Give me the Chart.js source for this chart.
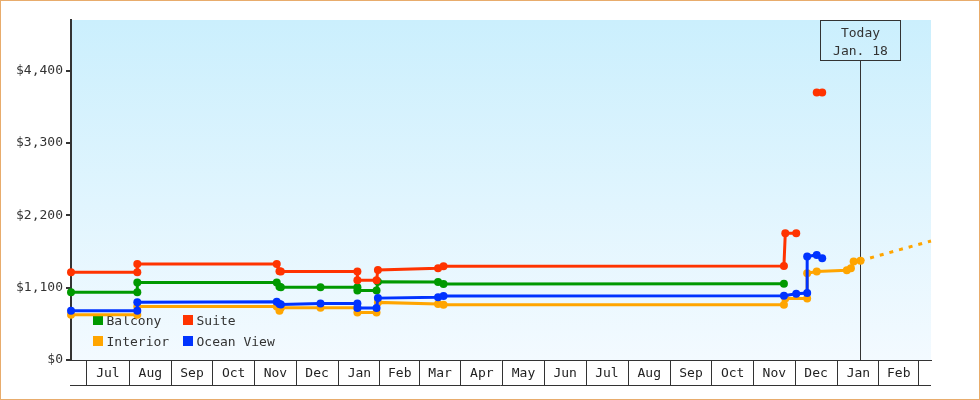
<!DOCTYPE html>
<html>
<head>
<meta charset="utf-8">
<script src="https://cdn.jsdelivr.net/npm/chart.js@4.4.1/dist/chart.umd.min.js"></script>
<style>
  html, body { margin: 0; padding: 0; background: #ffffff; }
  #wrap { position: relative; width: 980px; height: 400px; }
  #frame { position: absolute; left: 0; top: 0; width: 980px; height: 400px; box-sizing: border-box; border: 1px solid #e8ac6c; pointer-events: none; }
  canvas { display: block; }
</style>
</head>
<body>
<div id="wrap"><canvas id="c" width="980" height="400"></canvas><div id="frame"></div></div>
<script>
// ---------- data ----------
const legendOrder = ['Balcony', 'Suite', 'Interior', 'Ocean View'];
const monthNames = ['Jan','Feb','Mar','Apr','May','Jun','Jul','Aug','Sep','Oct','Nov','Dec'];
const xTickMonths = ['2021-07','2021-08','2021-09','2021-10','2021-11','2021-12','2022-01','2022-02','2022-03','2022-04',
                     '2022-05','2022-06','2022-07','2022-08','2022-09','2022-10','2022-11','2022-12','2023-01','2023-02'];
const yTicks = [0, 1100, 2200, 3300, 4400];
const xStart = '2021-06-19T12:00';
const xEnd = '2023-03-10T14:00';
const yMax = 5170;
const todayDate = '2023-01-18';
const todayLabel = ['Today', 'Jan. 18'];

const balconyDates = ['2021-06-19T12:00','2021-08-07','2021-08-07','2021-11-17','2021-11-19','2021-11-20','2021-12-19',
  '2022-01-15','2022-01-15','2022-01-29','2022-01-30','2022-03-15','2022-03-19','2022-11-23'];
const balconyValues = [1032,1032,1180,1180,1112,1105,1105,1105,1055,1055,1190,1185,1155,1158];

const suiteDates = ['2021-06-19T12:00','2021-08-07','2021-08-07','2021-11-17','2021-11-19','2021-11-20',
  '2022-01-15','2022-01-15','2022-01-29','2022-01-30','2022-03-15','2022-03-19','2022-11-23','2022-11-24','2022-12-02',
  '2022-12-10','2022-12-17','2022-12-21'];
const suiteValues = [1335,1335,1461,1461,1350,1344,1344,1214,1214,1370,1396,1425,1430,1927,1927,null,4066,4066];

const interiorDates = ['2021-06-19T12:00','2021-08-07','2021-08-07','2021-11-17','2021-11-19','2021-11-20','2021-12-19',
  '2022-01-15','2022-01-15','2022-01-29','2022-01-30','2022-03-15','2022-03-19','2022-11-23','2022-11-24','2022-12-10',
  '2022-12-10','2022-12-17','2023-01-08','2023-01-11','2023-01-13','2023-01-18'];
const interiorValues = [687,687,813,813,748,795,795,795,722,722,876,850,839,839,935,935,1320,1344,1365,1396,1496,1511];

const oceanDates = ['2021-06-19T12:00','2021-08-07','2021-08-07','2021-11-17','2021-11-19','2021-11-20','2021-12-19',
  '2022-01-15','2022-01-15','2022-01-29','2022-01-30','2022-03-15','2022-03-19','2022-11-23','2022-12-02','2022-12-10',
  '2022-12-10','2022-12-17','2022-12-21'];
const oceanValues = [748,748,880,885,850,845,858,858,789,789,941,956,975,978,1006,1017,1572,1598,1548];

const projectionDates = ['2023-01-18', '2023-03-10T14:00'];
const projectionValues = [1511, 1810];

// ---------- helpers ----------
const toDay = s => Date.parse(s.length === 10 ? s + 'T00:00:00Z' : s + ':00Z') / 864e5;
const monthMid = m => {
  const y = +m.slice(0, 4), mo = +m.slice(5, 7);
  return (Date.UTC(y, mo - 1, 1) + Date.UTC(y, mo, 1)) / 2 / 864e5;
};
const xTicks = xTickMonths.map(m => ({ value: monthMid(m), label: monthNames[+m.slice(5, 7) - 1] }));
const pts = (dates, vals) => dates.map((d, i) => ({ x: toDay(d), y: vals[i] }));

const COLORS = { 'Balcony': '#009900', 'Suite': '#ff3300', 'Interior': '#ffa500', 'Ocean View': '#0033ff' };
const FONT = '"DejaVu Sans Mono", "Liberation Mono", monospace';

const lineDs = (label, data) => ({
  label, data,
  borderColor: COLORS[label], backgroundColor: COLORS[label],
  borderWidth: 3, pointRadius: 4, pointHoverRadius: 4, pointBorderWidth: 0,
  tension: 0, fill: false, spanGaps: false, clip: false
});

// ---------- plugins ----------
const bgPlugin = {
  id: 'bg',
  beforeDraw(chart) {
    const { ctx, chartArea: a } = chart;
    const g = ctx.createLinearGradient(0, a.top, 0, a.bottom);
    g.addColorStop(0, '#cbeffd');
    g.addColorStop(1, '#f3faff');
    ctx.save();
    ctx.fillStyle = g;
    ctx.fillRect(a.left, a.top, a.right - a.left, a.bottom - a.top);
    ctx.restore();
  }
};

const underlayPlugin = {
  id: 'underlay',
  beforeDatasetsDraw(chart) {
    const { ctx, chartArea: a } = chart;
    ctx.save();
    // legend (drawn under the lines)
    ctx.font = '13px ' + FONT;
    ctx.textAlign = 'left';
    ctx.textBaseline = 'alphabetic';
    legendOrder.forEach((name, i) => {
      const col = i % 2, row = Math.floor(i / 2);
      const x = a.left + 22 + col * 90;
      const top = a.bottom - 45 + row * 21;
      ctx.fillStyle = COLORS[name];
      ctx.fillRect(x, top, 10, 10);
      ctx.fillStyle = '#333333';
      ctx.fillText(name, x + 13.5, top + 10);
    });
    // today marker
    const tx = Math.round(chart.scales.x.getPixelForValue(toDay(todayDate))) + 0.5;
    ctx.strokeStyle = '#333333';
    ctx.lineWidth = 1;
    ctx.strokeRect(tx - 40, a.top + 0.5, 80, 40);
    ctx.beginPath();
    ctx.moveTo(tx, a.top + 40.5);
    ctx.lineTo(tx, a.bottom);
    ctx.stroke();
    ctx.fillStyle = '#333333';
    ctx.textAlign = 'center';
    ctx.fillText(todayLabel[0], tx, a.top + 16.5);
    ctx.fillText(todayLabel[1], tx, a.top + 35);
    ctx.restore();
  }
};

const axisBoxPlugin = {
  id: 'axisBox',
  afterDraw(chart) {
    const { ctx } = chart;
    const xs = chart.scales.x;
    ctx.save();
    ctx.strokeStyle = '#333333';
    ctx.lineWidth = 1;
    ctx.beginPath();
    ctx.moveTo(xs.left - 1, xs.top + 25.5);
    ctx.lineTo(xs.right, xs.top + 25.5);
    ctx.stroke();
    ctx.restore();
  }
};

// ---------- chart ----------
new Chart(document.getElementById('c'), {
  type: 'line',
  data: {
    datasets: [
      lineDs('Ocean View', pts(oceanDates, oceanValues)),
      lineDs('Suite', pts(suiteDates, suiteValues)),
      lineDs('Balcony', pts(balconyDates, balconyValues)),
      lineDs('Interior', pts(interiorDates, interiorValues)),
      {
        label: 'Interior projection',
        data: pts(projectionDates, projectionValues),
        borderColor: COLORS['Interior'], backgroundColor: COLORS['Interior'],
        borderWidth: 3, borderDash: [4, 6], pointRadius: 0, pointHoverRadius: 0,
        tension: 0, fill: false, clip: false
      }
    ]
  },
  options: {
    responsive: false,
    animation: false,
    events: [],
    layout: { padding: { left: 0, top: 20, right: 49, bottom: 15 } },
    plugins: { legend: { display: false }, tooltip: { enabled: false } },
    scales: {
      x: {
        type: 'linear',
        position: 'bottom',
        min: toDay(xStart),
        max: toDay(xEnd),
        afterBuildTicks: s => { s.ticks = xTicks.map(t => ({ value: t.value })); },
        afterFit: s => { s.height = 25; },
        ticks: {
          autoSkip: false, maxRotation: 0, minRotation: 0,
          padding: -19,
          color: '#222222',
          font: { family: FONT, size: 13 },
          callback: (v, i) => xTicks[i] ? xTicks[i].label : ''
        },
        grid: { display: true, drawOnChartArea: false, drawTicks: true, tickLength: 25, offset: true, color: '#333333', lineWidth: 1 },
        border: { display: true, color: '#333333', width: 1 }
      },
      y: {
        type: 'linear',
        position: 'left',
        min: 0,
        max: yMax,
        afterBuildTicks: s => { s.ticks = yTicks.map(v => ({ value: v })); },
        afterFit: s => { s.width = 71; },
        ticks: {
          padding: 3,
          color: '#333333',
          font: { family: FONT, size: 13 },
          callback: v => '$' + Number(v).toLocaleString('en-US')
        },
        grid: { display: true, drawOnChartArea: false, drawTicks: true, tickLength: 5, color: '#333333', lineWidth: 2 },
        border: { display: true, color: '#333333', width: 2 }
      }
    }
  },
  plugins: [bgPlugin, underlayPlugin, axisBoxPlugin]
});
</script>
</body>
</html>
